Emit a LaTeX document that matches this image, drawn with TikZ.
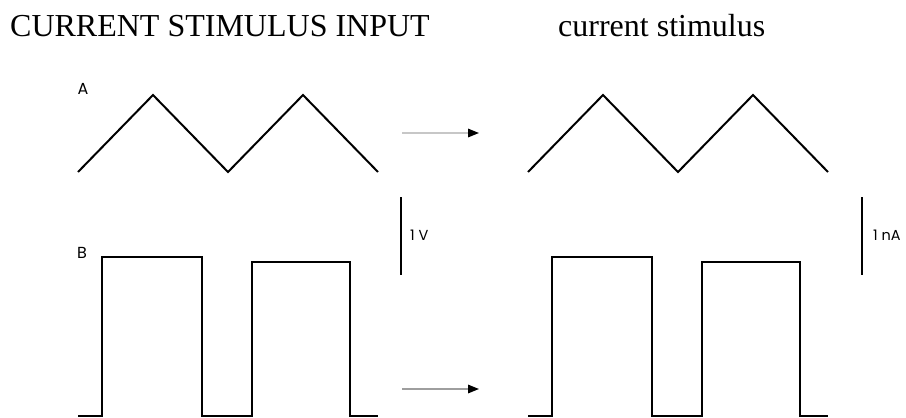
\documentclass[tikz,border=0pt]{standalone}
\usepackage{fontspec}
\setmainfont{Liberation Serif}
\newfontfamily\labfont{Poppins}
\usetikzlibrary{arrows.meta}
\tikzset{
  wave/.style={line width=2pt, line join=miter, black},
  scalebar/.style={line width=2pt, black},
  flow/.style={line width=1.6pt, draw=#1, -{Triangle[length=11pt,width=8.5pt,color=black]}},
  title/.style={anchor=base west, inner sep=0pt, font=\fontsize{32}{38}\selectfont},
  lab/.style={inner sep=0pt, font=\labfont\fontsize{16}{18}\selectfont},
  unit/.style={anchor=west, inner sep=0pt, font=\labfont\fontsize{14.5}{16}\selectfont}
}
\begin{document}
\begin{tikzpicture}[x=1pt,y=-1pt]
\useasboundingbox (0,0) rectangle (906,418);
% titles
\node[title] (t1) at (10,36) {CURRENT STIMULUS INPUT};
\node[title] (t2) at (558,36) {current stimulus};
% labels
\node[lab] (la) at (83,88.5) {A};
\node[lab] (lb) at (82,252.5) {B};
% triangle waves
\draw[wave] (78,172) -- (153,95) -- (228,172) -- (303,95) -- (378,172);
\draw[wave] (528,172) -- (603,95) -- (678,172) -- (753,95) -- (828,172);
% square waves
\draw[wave] (78,416) -- (101.5,416) -- (101.5,256.5) -- (202,256.5) -- (202,416) -- (252,416) -- (252,261.5) -- (350,261.5) -- (350,416) -- (378,416);
\draw[wave] (528,416) -- (551.5,416) -- (551.5,256.5) -- (652,256.5) -- (652,416) -- (702,416) -- (702,261.5) -- (800,261.5) -- (800,416) -- (828,416);
% arrows
\coordinate (a1s) at (402,133);
\coordinate (a1e) at (479,133);
\coordinate (a2s) at (402,389);
\coordinate (a2e) at (479,389);
\draw[flow=black!22] (a1s) -- (a1e);
\draw[flow=black!38] (a2s) -- (a2e);
% scale bars
\coordinate (s1t) at (401,197);
\coordinate (s1b) at (401,275);
\coordinate (s2t) at (862,197);
\coordinate (s2b) at (862,275);
\draw[scalebar] (s1t) -- (s1b);
\draw[scalebar] (s2t) -- (s2b);
\node[unit] (u1) at (410,235.5) {1 V};
\node[unit] (u2) at (873,235.5) {1 nA};
\end{tikzpicture}
\end{document}
